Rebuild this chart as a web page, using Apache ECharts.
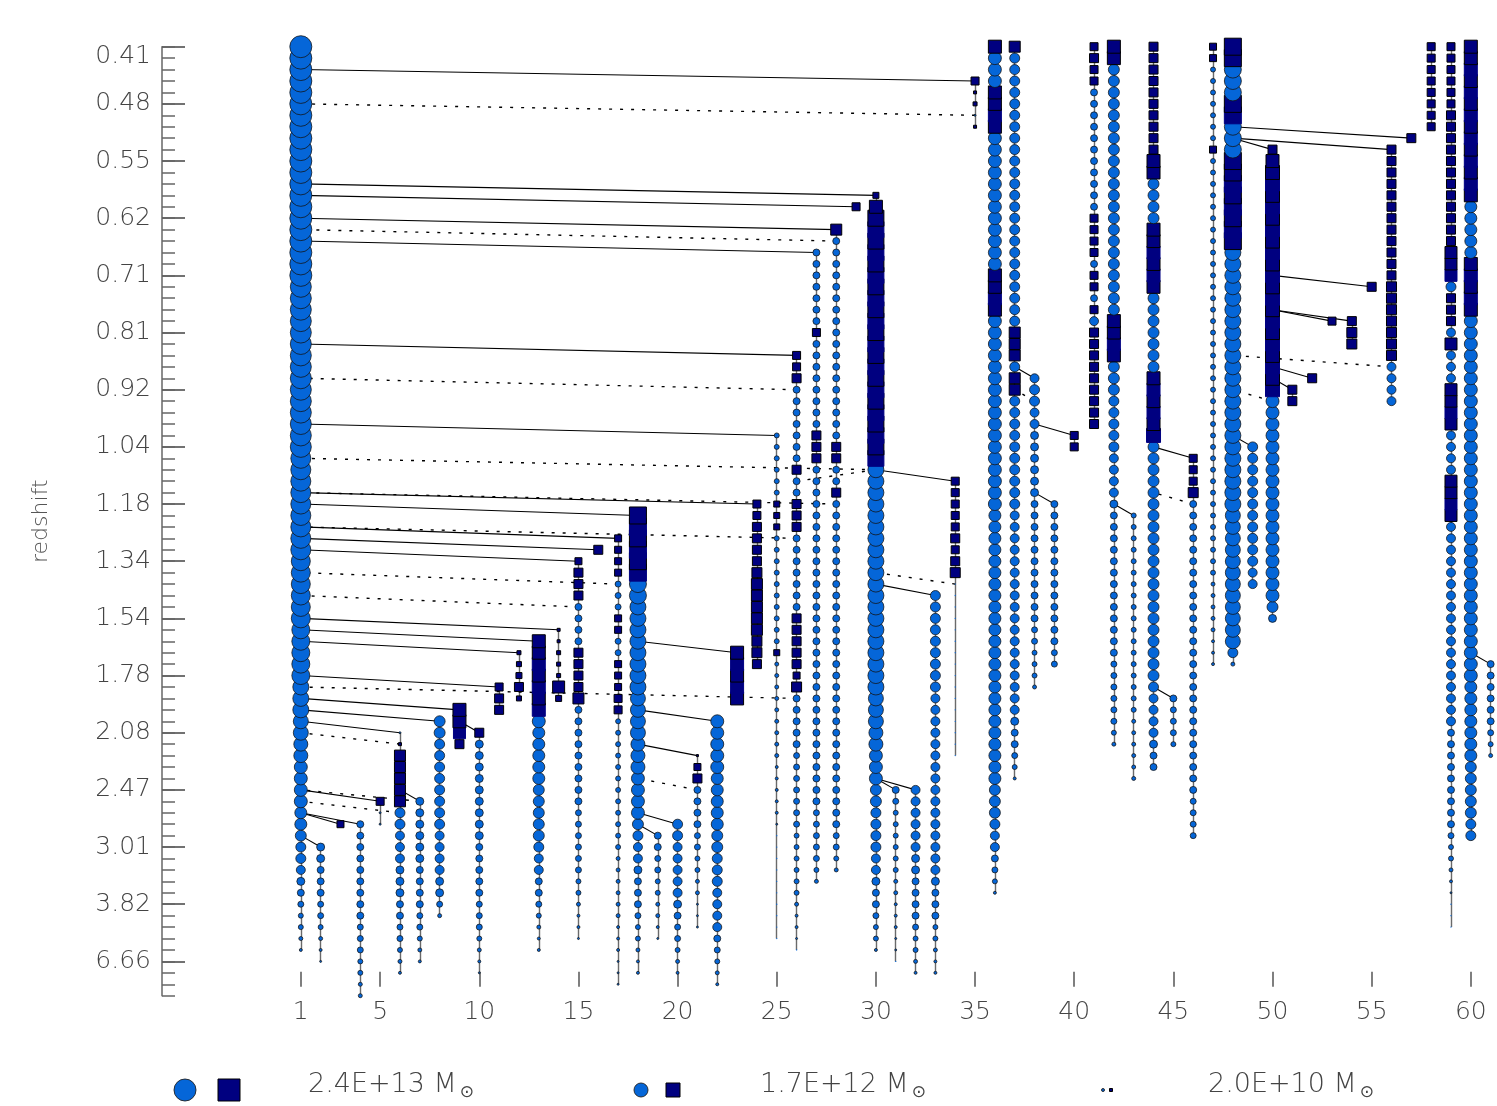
<!DOCTYPE html>
<html>
<head>
<meta charset="utf-8">
<script src="https://cdn.jsdelivr.net/npm/echarts@6/dist/echarts.min.js"></script>
<style>
  html, body { margin: 0; background: #fff; }
  #chart { width: 1497px; height: 1106px; }
</style>
</head>
<body>
<div id="chart"></div>
<script>
// redshift of every 5th snapshot, top of the axis = snapshot 0
const redshiftLabels = ['0.41', '0.48', '0.55', '0.62', '0.71', '0.81', '0.92', '1.04', '1.18',
  '1.34', '1.54', '1.78', '2.08', '2.47', '3.01', '3.82', '6.66'];
const labelSnaps = [0, 5, 10, 15, 20, 25, 30, 35, 40, 45, 50, 55, 60, 65, 70, 75, 80];
const xTickValues = [1, 5, 10, 15, 20, 25, 30, 35, 40, 45, 50, 55, 60];

// branches: [column, first snapshot, mass classes per snapshot (run length coded)]
// lower case = central halo (circle), upper case = subhalo (square), '.' = barely resolved
const branches = [
  [1, 0, 'u21 t15 s9 r6 q5 o3 n2 m2 l4 k2 j i2 h g f e d2 c b'],
  [2, 70, 'g2 f3 e2 d c b a'],
  [3, 68, 'F'],
  [4, 68, 'f9 e3 d2 c2'],
  [5, 66, 'G a2'],
  [6, 60, 'a B J5 i2 h3 g3 f2 e2 d c b'],
  [7, 66, 'g6 f4 e2 d c b'],
  [8, 59, 'j2 i8 h4 g2 e c'],
  [9, 58, 'L2 K H'],
  [10, 60, 'H g9 f5 e3 d c b a'],
  [11, 56, 'G H2'],
  [12, 53, 'C D E H D'],
  [13, 52, 'L7 l k5 j5 i h2 f2 e d c b2'],
  [14, 51, 'B2 C3 K E'],
  [15, 45, 'F H3 f4 H4 J f9 e6 d2 c b2 a'],
  [16, 44, 'H'],
  [17, 43, 'F4 e3 F2 e2 F3 G2 d12 c6 b3 a3'],
  [18, 41, 'P6 p2 o8 n4 m3 l4 j i h2 g f3 e d2 c b2'],
  [19, 69, 'f2 e2 d2 c2 b a'],
  [20, 68, 'i2 h5 g f e2 d c b'],
  [21, 62, 'A F H f4 e2 d2 c2 a3'],
  [22, 59, 'l5 k5 j2 i3 h4 f e d c b'],
  [23, 53, 'L5'],
  [24, 40, 'G2 H4 I J5 I2 H'],
  [25, 34, 'd6 E3 d10 E c9 b5 a .10'],
  [26, 27, 'G2 H f7 H f2 H3 f7 H5 F I f5 e7 d6 c b2 a .'],
  [27, 18, 'f7 G f8 H3 f30 e5 d c'],
  [28, 16, 'J f18 H2 f2 H f29 e2 d c'],
  [29, 14, 'G'],
  [30, 13, 'E L O22 o20 n3 m2 l3 j2 i4 h2 g f2 e d2 b'],
  [31, 65, 'f e d6 c2 b3 a2 .'],
  [32, 65, 'h6 g2 f4 e d2 c b'],
  [33, 48, 'i9 h16 g f3 d2 c b2'],
  [34, 38, 'G5 H G H I .16'],
  [35, 3, 'G B C a B'],
  [36, 0, 'L l3 L4 l12 L4 l17 k24 j3 i h2 f e d b'],
  [37, 0, 'J i24 J3 i J2 i10 h18 g f2 e d b'],
  [38, 29, 'h i2 h2 g6 f11 e2 d3 c'],
  [39, 40, 'f13 e2'],
  [40, 34, 'G2'],
  [41, 0, 'G H G2 f11 G4 f G2 f G h H9'],
  [42, 0, 'L2 j22 L4 j3 i5 h4 g f13 e6 d c'],
  [43, 41, 'd18 c6'],
  [44, 0, 'H10 L2 j4 L6 j7 L5 M j21 i h4 g f2'],
  [45, 57, 'f e3 d'],
  [46, 36, 'G3 I f26 e4'],
  [47, 0, 'F2 d7 F d37 c5 b3'],
  [48, 0, 'P2 p3 P2 p3 P8 o23 n12 i c'],
  [49, 35, 'i11 h2'],
  [50, 9, 'H L M20 l18 j g'],
  [51, 30, 'H2'],
  [52, 29, 'H'],
  [53, 24, 'G'],
  [54, 24, 'H I2'],
  [55, 21, 'H'],
  [56, 9, 'H12 I7 h4'],
  [57, 8, 'H'],
  [58, 0, 'G8'],
  [59, 0, 'G6 H12 K3 i H3 h K h3 K4 h4 K4 h18 f9 e d2 c b a .3'],
  [60, 0, 'L14 k5 L5 l32 k7 j5 i2'],
  [61, 54, 'f6 e d c']
];

// links: [progenitor column, snapshot, descendant column, snapshot, dotted]
const links = [
  [35, 3, 1, 2, 0], [35, 6, 1, 5, 1], [30, 13, 1, 12, 0], [29, 14, 1, 13, 0],
  [28, 16, 1, 15, 0], [28, 17, 1, 16, 1], [27, 18, 1, 17, 0], [26, 27, 1, 26, 0],
  [26, 30, 1, 29, 1], [25, 34, 1, 33, 0], [30, 37, 1, 36, 1], [24, 40, 1, 39, 0],
  [28, 40, 1, 39, 1], [18, 41, 1, 40, 0], [17, 43, 1, 42, 0], [26, 43, 1, 42, 1],
  [16, 44, 1, 43, 0], [15, 45, 1, 44, 0], [17, 47, 1, 46, 1], [15, 49, 1, 48, 1],
  [14, 51, 1, 50, 0], [13, 52, 1, 51, 0], [12, 53, 1, 52, 0], [11, 56, 1, 55, 0],
  [26, 57, 1, 56, 1], [9, 58, 1, 57, 0], [8, 59, 1, 58, 0], [6, 60, 1, 59, 0],
  [6, 61, 1, 60, 1], [5, 66, 1, 65, 0], [7, 66, 1, 65, 1], [6, 67, 1, 66, 1],
  [3, 68, 1, 67, 0], [4, 68, 1, 67, 0], [2, 70, 1, 69, 0],
  [10, 60, 9, 59, 0], [7, 66, 6, 65, 0], [23, 53, 18, 52, 0], [22, 59, 18, 58, 0],
  [21, 62, 18, 61, 0], [21, 65, 18, 64, 1], [20, 68, 18, 67, 0], [19, 69, 18, 68, 0],
  [26, 38, 30, 37, 1], [34, 38, 30, 37, 0], [34, 47, 30, 46, 1], [33, 48, 30, 47, 0],
  [31, 65, 30, 64, 0], [32, 65, 30, 64, 0], [38, 29, 37, 28, 0], [38, 31, 37, 30, 1],
  [40, 34, 38, 33, 0], [39, 40, 38, 39, 0], [43, 41, 42, 40, 0], [46, 36, 44, 35, 0],
  [46, 40, 44, 39, 1], [45, 57, 44, 56, 0], [57, 8, 48, 7, 0], [56, 9, 48, 8, 0],
  [50, 9, 48, 8, 0], [55, 21, 50, 20, 0], [53, 24, 50, 23, 0], [54, 24, 50, 23, 0],
  [56, 28, 48, 27, 1], [52, 29, 50, 28, 0], [51, 30, 50, 29, 0], [50, 31, 48, 30, 1],
  [49, 35, 48, 34, 0], [61, 54, 60, 53, 0]
];

const legendMasses = ['2.4E+13', '1.7E+12', '2.0E+10'];
const legendClasses = ['u', 'm', 'b'];

const circleColor = '#0566d8';
const squareColor = '#000080';
const font = "'DejaVu Sans', sans-serif";

function decode(rle) {
  const out = [];
  rle.trim().split(/\s+/).forEach(tok => {
    const n = tok.length > 1 ? parseInt(tok.slice(1), 10) : 1;
    for (let i = 0; i < n; i++) out.push(tok[0]);
  });
  return out;
}

// mass class -> symbol diameter in px
function sizeOf(c) {
  if (c === '.') return 1.3;
  return c.toLowerCase().charCodeAt(0) - 95;
}
const isSub = c => c !== '.' && c === c.toUpperCase();

const points = [];
const stems = [];
branches.forEach(([col, start, rle]) => {
  const codes = decode(rle);
  if (codes.length > 1) {
    stems.push({ coords: [[col, start], [col, start + codes.length - 1]] });
  }
  // earliest times first, so later snapshots sit on top
  for (let i = codes.length - 1; i >= 0; i--) {
    const c = codes[i];
    const tiny = c === '.';
    const sub = isSub(c);
    // inside a merged block of big squares only every other outline shows
    const stacked = sub && i > 0 && isSub(codes[i - 1]) && sizeOf(c) > 11 && sizeOf(codes[i - 1]) > 11;
    const outline = stacked && (start + i) % 2 === 0 ? squareColor : '#000';
    points.push({
      value: [col, start + i],
      symbol: sub ? 'rect' : 'circle',
      symbolSize: sizeOf(c),
      itemStyle: sub
        ? { color: squareColor, borderColor: outline, borderWidth: 1, opacity: 1 }
        : { color: circleColor, borderColor: tiny ? circleColor : 'rgba(20,20,20,0.85)',
            borderWidth: tiny ? 0 : 0.9, opacity: 1 }
    });
  }
});

const linkData = links.map(([c1, s1, c2, s2, dotted]) => ({
  coords: [[c1, s1], [c2, s2]],
  lineStyle: dotted
    ? { color: '#000', width: 1.4, type: [3, 8], opacity: 1 }
    : { color: '#000', width: 1.1, type: 'solid', opacity: 1 }
}));

const chart = echarts.init(document.getElementById('chart'), null, { renderer: 'canvas' });

const labelStyle = { fontSize: 25, color: '#444', fontFamily: font, fontWeight: 200 };

const legendGraphics = [];
const legendCircleX = [185, 641, 1103];
const legendSquareX = [229, 673, 1111];
const legendTextX = [308, 760, 1208];
legendMasses.forEach((m, i) => {
  const d = sizeOf(legendClasses[i]);
  legendGraphics.push({
    type: 'circle', shape: { cx: legendCircleX[i], cy: 1090, r: d / 2 },
    style: { fill: circleColor, stroke: '#222', lineWidth: 0.9 }
  });
  legendGraphics.push({
    type: 'rect', shape: { x: legendSquareX[i] - d / 2, y: 1090 - d / 2, width: d, height: d },
    style: { fill: squareColor, stroke: '#000', lineWidth: 1 }
  });
  legendGraphics.push({
    type: 'text', x: legendTextX[i], y: 1068,
    style: {
      text: '{m|' + m + ' M}{s|⊙}',
      rich: {
        m: { fontSize: 27, fontFamily: font, fontWeight: 200, fill: '#444', lineHeight: 30 },
        s: { fontSize: 17, fontFamily: font, fill: '#444', padding: [16, 0, 0, 3] }
      }
    }
  });
});

const option = {
  animation: false,
  backgroundColor: '#fff',
  grid: { left: 162, top: 46.7, width: 1334.6, height: 949 },
  xAxis: {
    type: 'value', min: -6, max: 61.3, offset: -9,
    axisLine: { show: false, onZero: false },
    splitLine: { show: false },
    axisTick: { show: true, inside: true, length: 15, customValues: xTickValues,
      lineStyle: { color: '#555', width: 1.5 } },
    axisLabel: Object.assign({ customValues: xTickValues, margin: 13 }, labelStyle)
  },
  yAxis: [
    {
      type: 'value', inverse: true, min: 0, max: 83, position: 'left',
      name: 'redshift', nameLocation: 'middle', nameGap: 110, nameRotate: 90,
      nameTextStyle: { fontSize: 22, color: '#555', fontFamily: font, fontWeight: 200 },
      axisLine: { show: true, onZero: false, lineStyle: { color: '#666', width: 1.5 } },
      axisTick: { show: true, inside: true, length: 23, customValues: labelSnaps,
        lineStyle: { color: '#444', width: 1.5 } },
      splitLine: { show: false },
      axisLabel: Object.assign({
        customValues: labelSnaps,
        margin: 11,
        formatter: v => v === 0 ? '{first|' + redshiftLabels[0] + '}' : (redshiftLabels[v / 5] || ''),
        rich: { first: { fontSize: 25, color: '#444', fontFamily: font, fontWeight: 200, padding: [20, 0, 0, 0] } }
      }, labelStyle)
    },
    {
      type: 'value', inverse: true, min: 0, max: 83, interval: 1, position: 'left',
      axisLine: { show: false, onZero: false },
      axisTick: { show: true, inside: true, length: 13, lineStyle: { color: '#666', width: 1.5 } },
      axisLabel: { show: false },
      splitLine: { show: false }
    }
  ],
  graphic: legendGraphics,
  series: [
    {
      type: 'lines', coordinateSystem: 'cartesian2d', z: 1, silent: true,
      data: stems, lineStyle: { color: '#6a6a6a', width: 1.4, opacity: 1 }
    },
    {
      type: 'lines', coordinateSystem: 'cartesian2d', z: 2, silent: true,
      data: linkData
    },
    {
      type: 'scatter', z: 3, large: false, progressive: 0, clip: false,
      itemStyle: { opacity: 1 },
      data: points
    }
  ]
};

chart.setOption(option);
window.addEventListener('resize', chart.resize);
</script>
</body>
</html>
